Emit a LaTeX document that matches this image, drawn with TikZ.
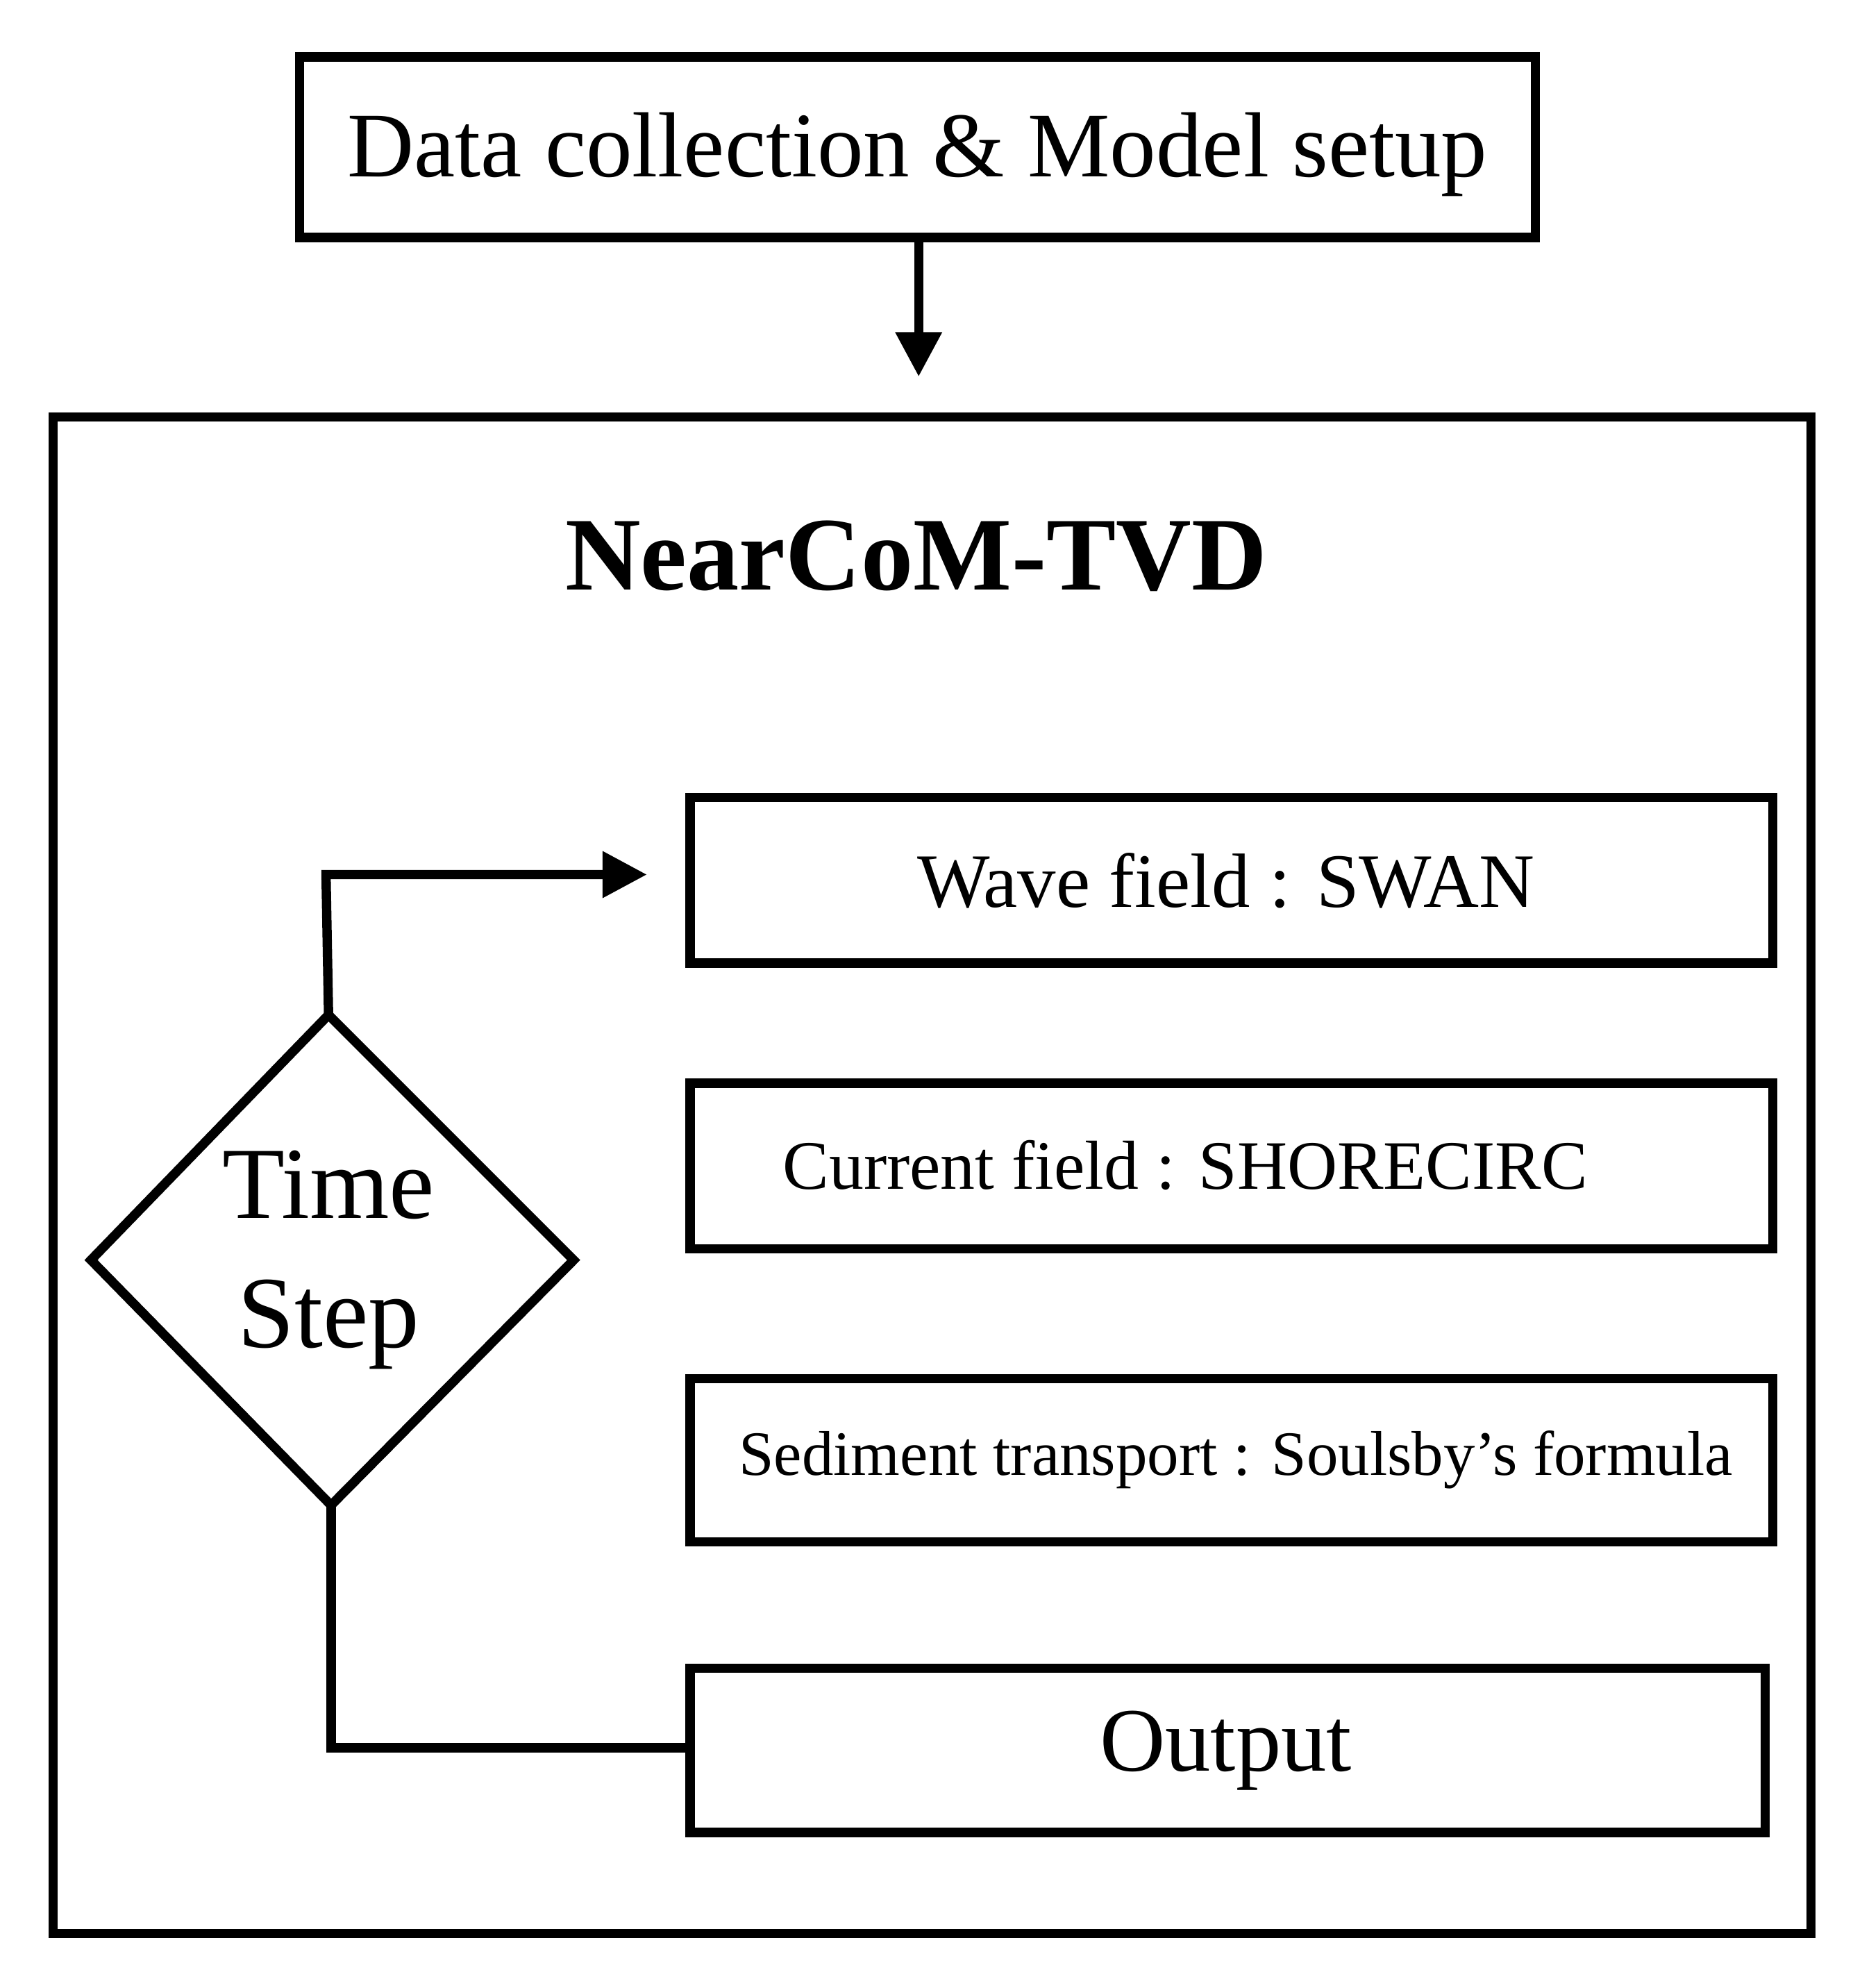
\documentclass[tikz,border=0pt]{standalone}
\usepackage{fontspec}
\setmainfont{Liberation Serif}
\usetikzlibrary{shapes.geometric,arrows.meta}
\begin{document}
\begin{tikzpicture}[x=0.01cm,y=-0.01cm,
  box/.style={draw,line width=2.1pt,inner sep=0pt},
  ln/.style={line width=2.1pt},
  arr/.style={ln,-{Triangle[length=10pt,width=10pt]}}]
\useasboundingbox (0,0) rectangle (1466,1573);
\draw[box] (237,45) rectangle (1215,188);
\node (toptxt) at (726,122) {\fontsize{20.8}{24}\selectfont Data collection \& Model setup};
\coordinate (tb) at (727,188);
\coordinate (te) at (727,298);
\draw[arr] (tb) -- (te);
\draw[box] (42,330) rectangle (1433,1530);
\node (title) at (725,440) {\fontsize{23.5}{28}\selectfont\bfseries NearCoM-TVD};
\draw[box] (546,631) rectangle (1403,762);
\node (wave) at (970,697) {\fontsize{17.3}{20}\selectfont Wave field : SWAN};
\draw[box] (546,857) rectangle (1403,988);
\node (cur) at (938,922) {\fontsize{15.6}{18}\selectfont Current field : SHORECIRC};
\draw[box] (546,1091) rectangle (1403,1220);
\node (sed) at (978,1155) {\fontsize{14.2}{16}\selectfont Sediment transport : Soulsby’s formula};
\draw[box] (546,1320) rectangle (1397,1450);
\node (out) at (970,1385) {\fontsize{20.4}{24}\selectfont Output};
\coordinate (dt) at (260,803);
\coordinate (db) at (262,1191);
\draw[ln] (dt) -- (454,997) -- (db) -- (72,997) -- cycle;
\node[align=center,font=\fontsize{23}{29}\selectfont] (ts) at (260,997) {Time\\Step};
\coordinate (wa) at (512,692);
\draw[arr] (dt) -- (258,692) -- (wa);
\coordinate (ol) at (546,1383);
\draw[ln] (db) -- (262,1383) -- (ol);
\end{tikzpicture}
\end{document}
